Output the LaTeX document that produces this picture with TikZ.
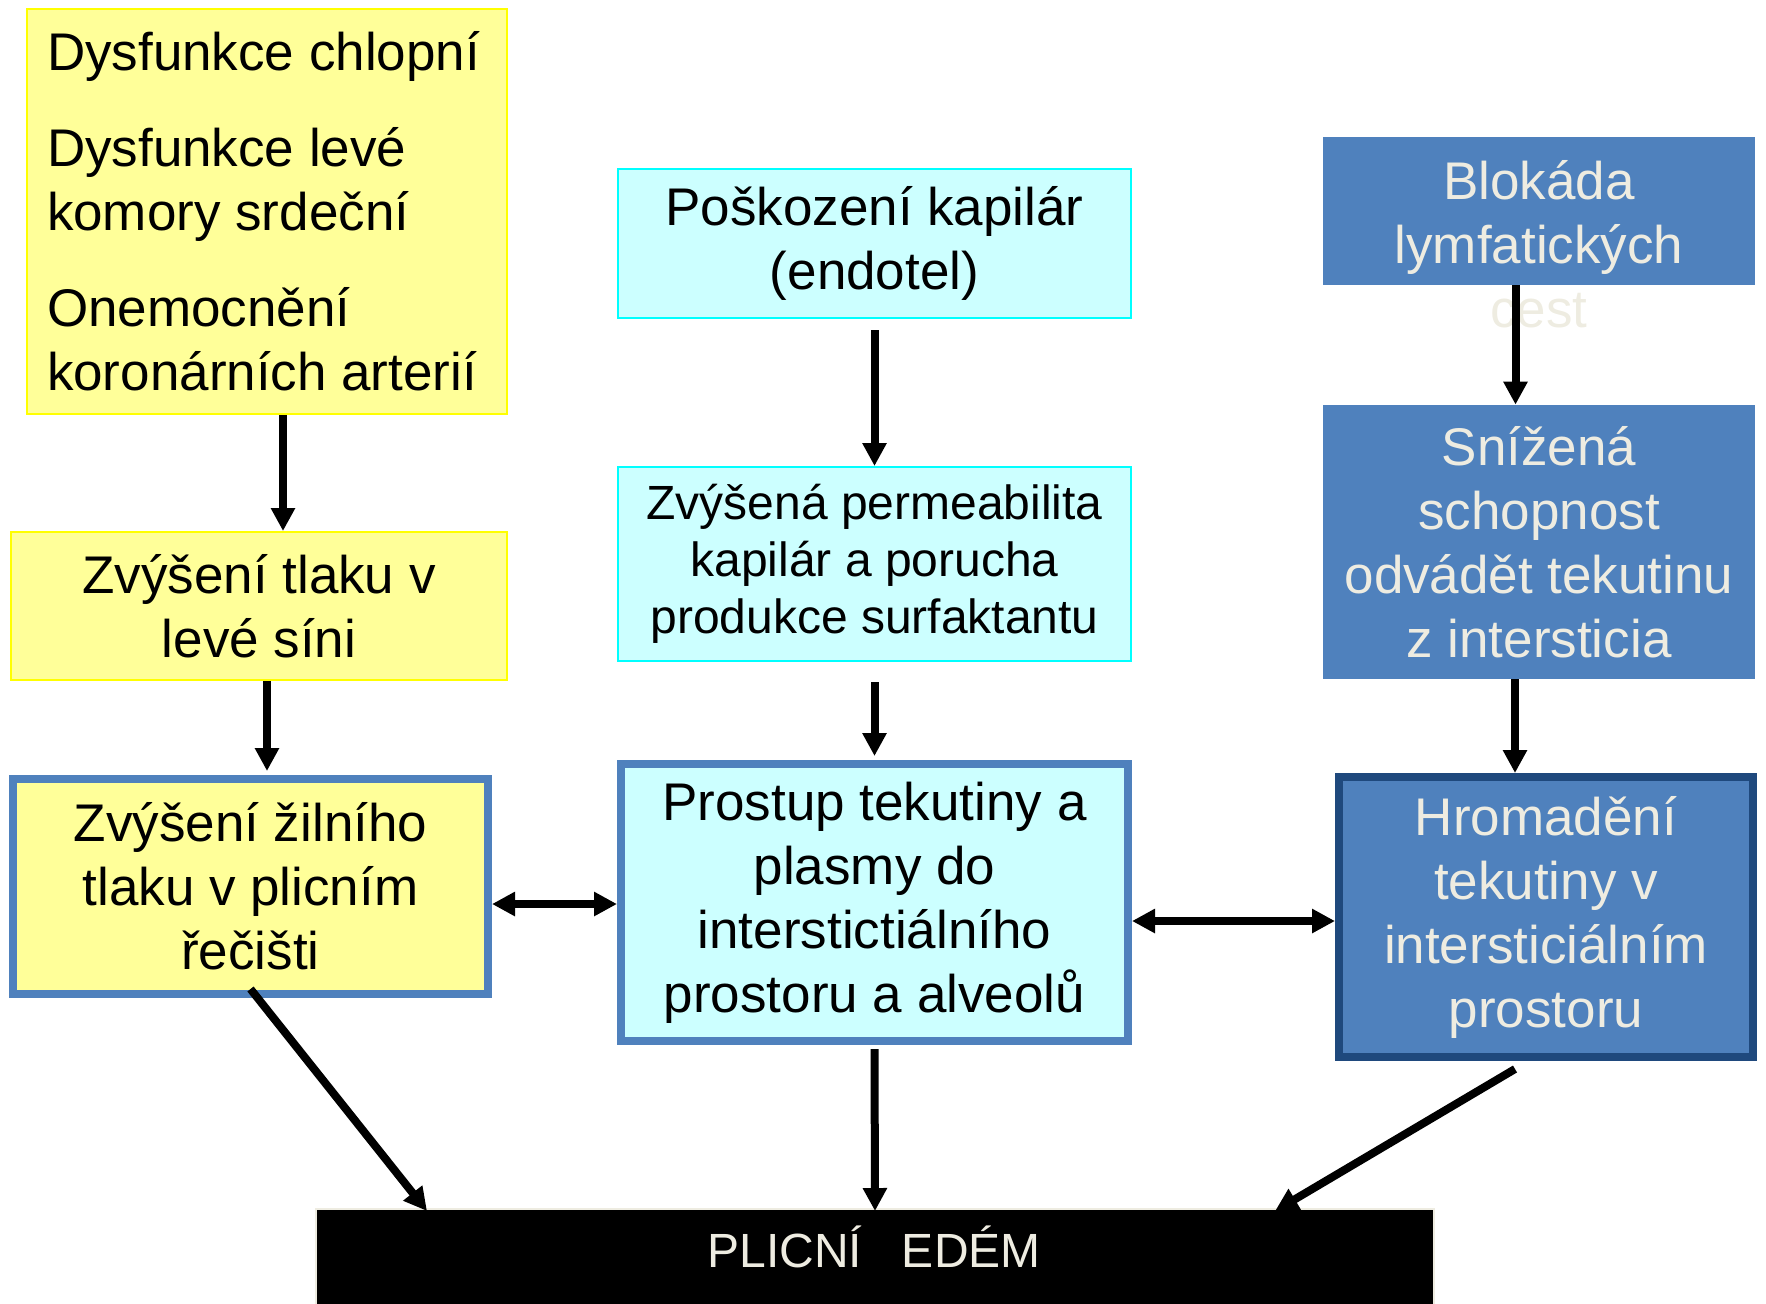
\documentclass[tikz,border=0pt]{standalone}
\usepackage{fontspec}
\setmainfont{Liberation Sans}
\usepackage{tikz}
\usetikzlibrary{arrows.meta,calc}
\definecolor{yelfill}{HTML}{FFFF99}
\definecolor{yelline}{HTML}{FFFF00}
\definecolor{cyfill}{HTML}{CCFFFF}
\definecolor{cyline}{HTML}{00FFFF}
\definecolor{ofblue}{HTML}{4F81BD}
\definecolor{ofnavy}{HTML}{1F497D}
\definecolor{ofcream}{HTML}{EEECE1}
\tikzset{
  % krabice
  box/.style={rectangle,inner sep=0pt,align=flush center,
              font=\fontsize{26.5}{32}\selectfont},
  yel/.style={box,fill=yelfill,draw=yelline,line width=1pt},
  cyb/.style={box,fill=cyfill,draw=cyline,line width=1pt},
  blb/.style={box,fill=ofblue,text=ofcream},
  framed/.style={draw=ofblue,line width=4pt},
  heavy/.style={draw=ofnavy,line width=4pt},
  % šipky
  arr/.style={-{Triangle[length=11.5pt,width=11.5pt]},line width=4pt},
  darr/.style={{Triangle[length=11.5pt,width=11.5pt]}-{Triangle[length=11.5pt,width=11.5pt]},
               line width=4pt},
}
\begin{document}
\begin{tikzpicture}[x=0.5pt,y=-0.5pt]
\useasboundingbox (0,0) rectangle (1766,1303);
  \node[yel,align=flush left,text width=220pt,inner xsep=10pt,minimum height=202.5pt] (dys) at (267,211.5)
    {Dysfunkce chlopní\\[16pt]Dysfunkce levé\\komory srdeční\\[16pt]Onemocnění\\koronárních arterií};
  \node[yel,minimum width=248pt,minimum height=74pt] (lev) at (259,606) {Zvýšení tlaku v\\levé síni};
  \node[yel,framed,minimum width=237.5pt,minimum height=107.5pt] (zil) at (250.5,886.5)
    {Zvýšení žilního\\tlaku v plicním\\řečišti};
  \node[cyb,minimum width=256.5pt,minimum height=74.5pt] (posk) at (874.5,243.5) {Poškození kapilár\\(endotel)};
  \node[cyb,minimum width=256.5pt,minimum height=97pt,font=\fontsize{24}{28.5}\selectfont] (perm) at (874.5,564)
    {Zvýšená permeabilita\\kapilár a porucha\\produkce surfaktantu};
  \node[cyb,framed,minimum width=253.5pt,minimum height=138.5pt] (prost) at (874.5,902.5)
    {Prostup tekutiny a\\plasmy do\\interstictiálního\\prostoru a alveolů};
  \node[blb,minimum width=216pt,minimum height=74pt] (blok) at (1539,211) {};
  \node[box,text=ofcream] (blokt) at (1539,244) {Blokáda\\lymfatických\\cest};
  \node[blb,minimum width=216pt,minimum height=137pt] (sniz) at (1539,542)
    {Snížená\\schopnost\\odvádět tekutinu\\z intersticia};
  \node[blb,heavy,minimum width=207pt,minimum height=140pt] (hrom) at (1546,917)
    {Hromadění\\tekutiny v\\intersticiálním\\prostoru};
  \node[fill=black,draw=ofcream,line width=1pt,minimum width=559pt,minimum height=50pt] (edem) at (875,1259) {};
  \node[text=ofcream,font=\fontsize{24}{28}\selectfont] (edemt) at (874,1247) {PLICNÍ\ \ \ EDÉM};

  \draw[arr] ([xshift=8pt]dys.south) -- ([xshift=8pt]dys.south |- lev.north);
  \draw[arr,shorten >=2pt] ([xshift=4pt]lev.south) -- ([xshift=4pt]lev.south |- zil.north);
  \draw[arr] ([yshift=-5.5pt]posk.south) -- (perm.north);
  \draw[arr,shorten >=2pt] ([yshift=-10pt]perm.south) -- (prost.north);
  \draw[arr] ([xshift=-11.75pt]blok.south) -- ([xshift=-11.75pt]blok.south |- sniz.north);
  \draw[arr] ([xshift=-12pt]sniz.south) -- ([xshift=-12pt]sniz.south |- hrom.north);
  \draw[darr] ([yshift=-8.75pt]zil.east) -- ([yshift=-8.75pt]zil.east -| prost.west);
  \draw[darr] ([yshift=-9.25pt]prost.east) -- ([yshift=-9.25pt]prost.east -| hrom.west);
  \draw[arr] ([yshift=4.5pt]zil.south) -- ([xshift=-224pt,yshift=-1.5pt]edem.north);
  \draw[arr,shorten <=2pt] (prost.south) -- ([yshift=-1.5pt]edem.north);
  \draw[arr] ([xshift=-15.5pt,yshift=-4pt]hrom.south) -- ([xshift=200pt,yshift=-1.5pt]edem.north);
\end{tikzpicture}
\end{document}
